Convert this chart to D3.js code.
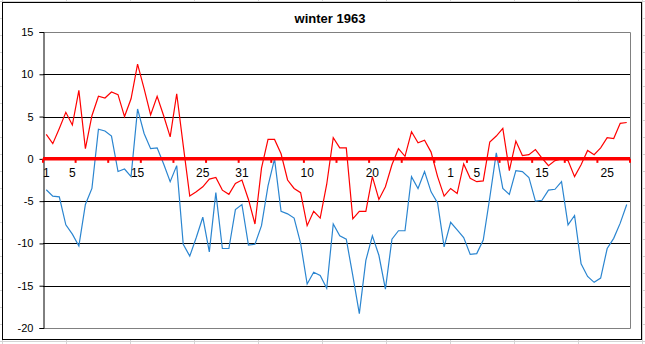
<!DOCTYPE html>
<html><head><meta charset="utf-8">
<script src="https://cdn.jsdelivr.net/npm/d3@7"></script>
<style>html,body{margin:0;padding:0;background:#fff;}svg{display:block;}</style>
</head><body><svg id="c" width="645" height="344"></svg>
<script>
// Data: daily values, Dec 1962 (31) + Jan 1963 (31) + Feb 1963 (28)
const months = [["Dec", 31], ["Jan", 31], ["Feb", 28]];
const categories = months.flatMap(([m, n]) => d3.range(1, n + 1).map(d => m + " " + d));
const maxSeries = [2.9,1.8,3.6,5.5,4.0,8.1,1.2,5.1,7.4,7.2,7.9,7.6,5.0,7.1,11.2,8.3,5.2,7.4,5.1,2.6,7.7,1.6,
  -4.4,-3.9,-3.3,-2.4,-2.2,-3.7,-4.2,-2.9,-2.5,-4.8,-7.7,-1.1,2.3,2.3,0.6,-2.5,-3.5,-4.0,-7.9,-6.2,-7.0,-3.0,
  2.5,1.3,1.3,-7.1,-6.2,-6.2,-2.1,-4.8,-3.3,-0.7,1.2,0.3,3.2,1.9,2.2,0.8,-2.1,-4.4,-3.5,-4.1,-0.6,-2.3,
  -2.7,-2.6,2.0,2.7,3.6,-1.4,2.1,0.4,0.5,1.1,0.1,-0.8,-0.2,0.0,-0.2,-2.1,-0.7,1.0,0.5,1.3,2.5,2.4,4.2,4.3];
const minSeries = [-3.65,-4.4,-4.5,-7.8,-8.9,-10.3,-5.4,-3.5,3.5,3.3,2.7,-1.5,-1.2,-2.1,5.9,3.0,1.2,1.3,-0.6,-2.7,-0.8,-10.1,
  -11.5,-9.3,-6.9,-11.0,-4.0,-10.6,-10.6,-6.0,-5.4,-10.2,-10.1,-7.9,-3.2,0.0,-6.2,-6.5,-7.0,-10.0,-14.8,-13.4,-13.8,-15.3,
  -7.7,-9.1,-9.5,-13.8,-18.3,-12.0,-9.1,-11.4,-15.4,-9.5,-8.5,-8.5,-2.1,-3.5,-1.5,-3.9,-5.2,-10.4,-7.5,-8.4,-9.3,-11.3,
  -11.2,-9.6,-4.6,0.7,-3.5,-4.2,-1.4,-1.5,-2.2,-5.0,-4.9,-3.7,-3.6,-2.7,-7.8,-6.7,-12.4,-13.9,-14.6,-14.1,-10.6,-9.4,-7.6,-5.4];
const xTickIndex = [0,4,14,24,30,40,50,62,66,76,86];
const xTickLabels = ["1","5","15","25","31","10","20","1","5","15","25"];
const yTicks = [15,10,5,0,-5,-10,-15,-20];
const title = "winter 1963";

const svg = d3.select("#c");
const L = 43, R = 630, T = 32, B = 328;

// spreadsheet background cells
const bg = svg.append("g");
for (let x = 2; x < 645; x += 64) bg.append("line").attr("x1", x+0.5).attr("x2", x+0.5).attr("y1", 0).attr("y2", 344).attr("stroke", "#d4d4d4");
for (let y = 1; y < 344; y += 17) bg.append("line").attr("x1", 0).attr("x2", 645).attr("y1", y+0.5).attr("y2", y+0.5).attr("stroke", "#d4d4d4");

// chart area
svg.append("rect").attr("x", 2.5).attr("y", 2.5).attr("width", 639).attr("height", 337)
  .attr("fill", "#fff").attr("stroke", "#000").attr("stroke-width", 1);

const x = d3.scaleBand().domain(d3.range(categories.length)).range([L, R]).padding(0);
const cx = i => x(i) + x.bandwidth() / 2;
const y = d3.scaleLinear().domain([-20, 15]).range([B, T]);

// gridlines
svg.append("g").selectAll("line").data(yTicks.filter(v => v !== 15 && v !== -20 && v !== 0)).join("line")
  .attr("x1", L).attr("x2", R).attr("y1", d => Math.round(y(d)) + 0.5).attr("y2", d => Math.round(y(d)) + 0.5)
  .attr("stroke", "#000").attr("stroke-width", 1);

// plot border (top, right, bottom)
svg.append("path").attr("d", `M${L},${T+0.5}H${R+0.5}V${B+0.5}H${L}`).attr("fill", "none").attr("stroke", "#808080").attr("stroke-width", 1);

// y axis
const yAxis = d3.axisLeft(y).tickValues(yTicks).tickSize(4).tickPadding(6).tickFormat(d3.format("d"));
const ya = svg.append("g").attr("transform", `translate(${L+0.5},0)`).call(yAxis);
ya.select(".domain").attr("stroke", "#000");
ya.selectAll(".tick line").attr("stroke", "#000");
ya.selectAll("text").attr("font-family", "Liberation Sans, Arial, sans-serif").attr("font-size", 11).attr("fill", "#000")
  .text(d => d < 0 ? "-" + Math.abs(d) : d);

// series lines
const line = d3.line().x((d, i) => cx(i)).y(d => y(d));
svg.append("path").datum(maxSeries).attr("d", line).attr("fill", "none").attr("stroke", "#ff0000").attr("stroke-width", 1.2);
svg.append("path").datum(minSeries).attr("d", line).attr("fill", "none").attr("stroke", "#2a85d0").attr("stroke-width", 1.2);

// category axis at zero (thick red)
const y0 = y(0);
const xTickPos = d3.range(0, categories.length, 5).map(i => x(i)).concat([R]);
svg.append("g").selectAll("line").data(xTickPos).join("line")
  .attr("x1", d => d).attr("x2", d => d).attr("y1", y0).attr("y2", y0 + 4)
  .attr("stroke", "#ff0000").attr("stroke-width", 2);
svg.append("line").attr("x1", L).attr("x2", R).attr("y1", y0).attr("y2", y0)
  .attr("stroke", "#ff0000").attr("stroke-width", 3.5);

svg.append("g").selectAll("text").data(xTickIndex).join("text")
  .attr("x", d => cx(d)).attr("y", y0 + 18).attr("text-anchor", "middle")
  .attr("font-family", "Liberation Sans, Arial, sans-serif").attr("font-size", 12).attr("fill", "#000")
  .text((d, i) => xTickLabels[i]);

// title
svg.append("text").attr("x", 330).attr("y", 23).attr("text-anchor", "middle")
  .attr("font-family", "Liberation Sans, Arial, sans-serif").attr("font-size", 13).attr("font-weight", "bold").attr("fill", "#000")
  .text(title);
</script></body></html>
